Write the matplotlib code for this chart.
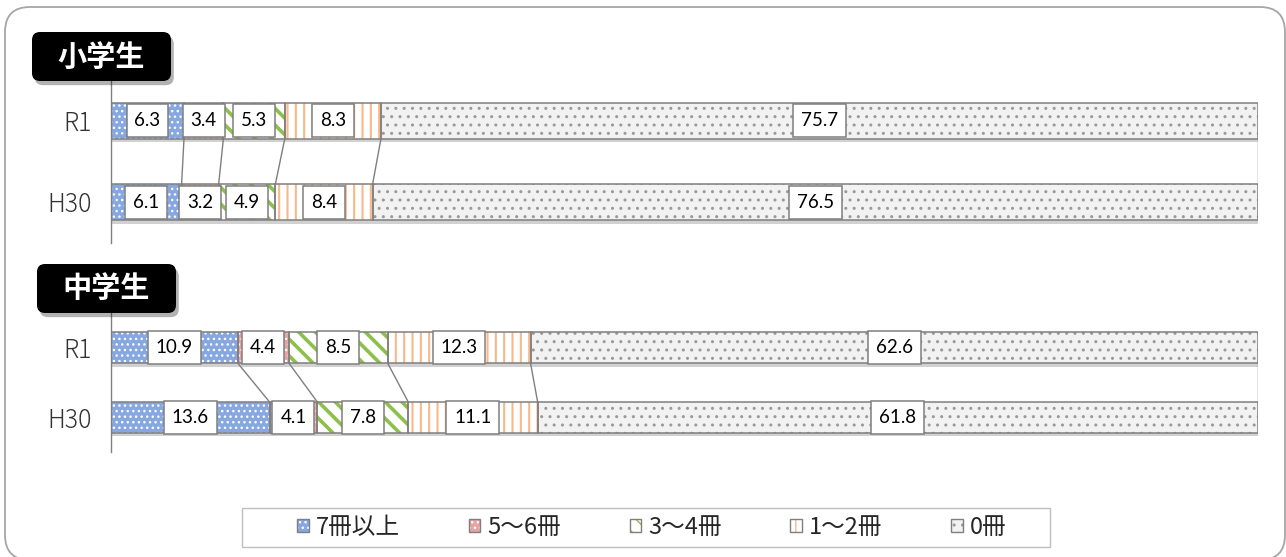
import numpy as np
import matplotlib.pyplot as plt
import matplotlib.patheffects as pe
from matplotlib.patches import FancyBboxPatch, Patch, Rectangle

plt.rcParams['font.family'] = ['Noto Sans CJK JP', 'DejaVu Sans']

years = ['R1', 'H30']
categories = ['7冊以上', '5～6冊', '3～4冊', '1～2冊', '0冊']
elem_r1 = [6.3, 3.4, 5.3, 8.3, 75.7]
elem_h30 = [6.1, 3.2, 4.9, 8.4, 76.5]
junior_r1 = [10.9, 4.4, 8.5, 12.3, 62.6]
junior_h30 = [13.6, 4.1, 7.8, 11.1, 61.8]

# face, hatch, hatch colour, hatch linewidth
styles = [
    ('#86a7e0', '...', 'white', 1.0),
    ('#e8a3a3', '...', 'white', 1.0),
    ('white', '\\\\', '#8cc04a', 2.6),
    ('white', '||', '#f8b98a', 1.5),
    ('#f2f2f2', '..', '#9a9a9a', 1.0),
]
GRAY = '#7f7f7f'


def hatch_lw(patches, lw):
    for p in patches:
        if hasattr(p, 'set_hatch_linewidth'):
            p.set_hatch_linewidth(lw)


def draw_panel(ax, r1, h30):
    h = 0.44
    cums = []
    for yi, vals in enumerate([np.array(r1), np.array(h30)]):
        pct = vals / vals.sum() * 100
        left = np.concatenate([[0], np.cumsum(pct)[:-1]])
        cums.append(np.cumsum(pct))
        ax.barh(yi, 100, left=0, height=h, color='white', lw=0, zorder=1,
                path_effects=[pe.SimplePatchShadow(offset=(0.5, -2.5), shadow_rgbFace='black', alpha=0.18),
                              pe.Normal()])
        for k in range(len(vals)):
            face, hatch, hc, hlw = styles[k]
            b = ax.barh(yi, pct[k], left=left[k], height=h, color=face, hatch=hatch,
                        edgecolor=hc, lw=0, zorder=2)
            hatch_lw(b, hlw)
            ax.barh(yi, pct[k], left=left[k], height=h, fill=False, edgecolor=GRAY, lw=1.1, zorder=3)
            ax.text(left[k] + pct[k] / 2, yi, f'{vals[k]:.1f}', ha='center', va='center',
                    fontsize=13.5, family='Lato', color='black', zorder=5,
                    bbox=dict(boxstyle='square,pad=0.42', fc='white', ec=GRAY, lw=1.1))
    for a, b in zip(cums[0], cums[1]):
        ax.plot([a, b], [h / 2, 1 - h / 2], color=GRAY, lw=1, zorder=2)

    ax.set_xlim(0, 100)
    ax.set_ylim(1.5, -0.5)
    ax.set_yticks([0, 1], years)
    ax.set_xticks([])
    ax.tick_params(axis='y', length=0, pad=14, labelsize=18, labelcolor='#333333')
    for lab in ax.get_yticklabels():
        lab.set_fontweight('light')
    for s in ['top', 'right', 'bottom']:
        ax.spines[s].set_visible(False)
    ax.spines['left'].set_color('#808080')
    ax.spines['left'].set_linewidth(1)
    ax.patch.set_alpha(0)


fig = plt.figure(figsize=(12.86, 5.57), dpi=100)
W, H = 1286, 557

ax1 = fig.add_axes([111 / W, 1 - 243 / H, 1147 / W, 163 / H])
ax2 = fig.add_axes([111 / W, 1 - 452 / H, 1147 / W, 139 / H])
draw_panel(ax1, elem_r1, elem_h30)
draw_panel(ax2, junior_r1, junior_h30)

# outer rounded frame
fig.add_artist(FancyBboxPatch((0.05, -0.03), 12.80, 5.53, boxstyle='round,pad=0,rounding_size=0.25',
                              transform=fig.dpi_scale_trans, fc='none', ec='#a6a6a6', lw=1.3))

# section headers
for (x0, y0), title in [((32, 81), '小学生'), ((37, 313), '中学生')]:
    bx = x0 / 100
    by = (H - y0) / 100
    box = FancyBboxPatch((bx, by), 1.39, 0.49, boxstyle='round,pad=0,rounding_size=0.08',
                         transform=fig.dpi_scale_trans, fc='black', ec='none', zorder=6,
                         path_effects=[pe.SimplePatchShadow(offset=(2, -3), shadow_rgbFace='black', alpha=0.3),
                                       pe.Normal()])
    fig.add_artist(box)
    fig.text(bx + 0.695, by + 0.245, title, transform=fig.dpi_scale_trans, ha='center', va='center',
             color='white', fontsize=21, fontweight='bold', zorder=7)

# legend
handles = []
for face, hatch, hc, hlw in styles:
    p = Patch(facecolor=face, hatch=hatch, edgecolor=hc, lw=0)
    hatch_lw([p], hlw)
    handles.append((p, Patch(fill=False, edgecolor=GRAY, lw=1)))
fig.legend(handles, categories, ncol=5, frameon=False, loc='center',
           bbox_to_anchor=(652 / W, 1 - 527.5 / H), fontsize=17, handlelength=0.5, handleheight=0.5,
           handletextpad=0.3, columnspacing=2.9, labelcolor='#262626')
fig.add_artist(Rectangle((2.42, (H - 547) / 100), 8.08, 0.39, transform=fig.dpi_scale_trans,
                         fc='none', ec='#bfbfbf', lw=1))

fig.savefig('out.png', dpi=100)
